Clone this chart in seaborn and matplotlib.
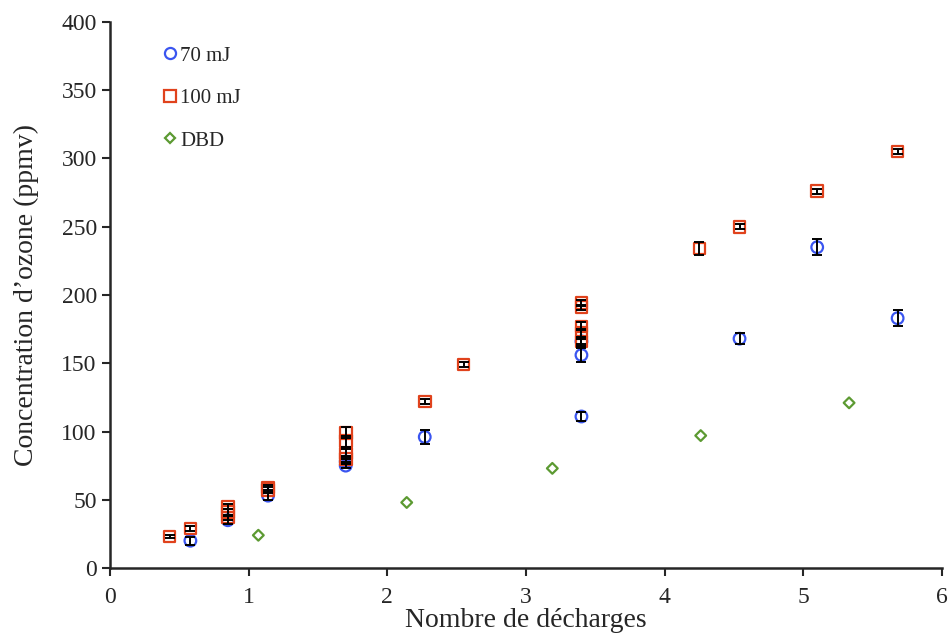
import matplotlib
matplotlib.use("Agg")
import matplotlib.pyplot as plt
from matplotlib.lines import Line2D
import seaborn as sns
import pandas as pd

# 70 mJ
x_70 = [0.58, 0.85, 1.14, 1.70, 1.70, 2.27, 3.40, 3.40, 3.40, 4.54, 5.10, 5.68]
y_70 = [20, 35, 53, 75, 78, 96, 111, 156, 166, 168, 235, 183]
e_70 = [3, 3, 3, 2, 2, 5, 3, 5, 3, 4, 6, 6]

# 100 mJ
x_100 = [0.43, 0.58, 0.85, 0.85, 0.85, 1.14, 1.14, 1.70, 1.70, 1.70, 1.70,
         2.27, 2.55, 3.40, 3.40, 3.40, 3.40, 3.40, 4.25, 4.54, 5.10, 5.68]
y_100 = [23, 29, 37, 41, 45, 57, 59, 80, 84, 93, 99,
         122, 149, 166, 172, 177, 191, 194, 234, 250, 276, 305]
e_100 = [1, 2, 2, 2, 2, 2, 2, 2, 3, 4, 4,
         2, 2, 2, 3, 3, 2, 2, 5, 2, 2, 2]

# DBD
x_dbd = [1.07, 2.14, 3.19, 4.26, 5.33]
y_dbd = [24, 48, 73, 97, 121]

labels = ["70 mJ", "100 mJ", "DBD"]
colors = ["#3a55f0", "#e0421c", "#5c9a32"]
markers = ["o", "s", "D"]

sns.set_style("ticks")
plt.rcParams['font.family'] = ['Liberation Serif', 'DejaVu Serif']

fig = plt.figure(figsize=(9.52, 6.37), dpi=100)
ax = fig.add_axes([0.1155, 0.1083, 0.874, 0.8572])

series = [(x_70, y_70, e_70), (x_100, y_100, e_100), (x_dbd, y_dbd, None)]
sizes = [70, 70, 30]
for (xs, ys, es), lab, c, m, s in zip(series, labels, colors, markers, sizes):
    df = pd.DataFrame({"x": xs, "y": ys})
    sns.scatterplot(data=df, x="x", y="y", marker=m, s=s, ax=ax, zorder=2)
    coll = ax.collections[-1]
    coll.set_facecolor("none")
    coll.set_edgecolor(c)
    coll.set_linewidth(1.6)
    if es is not None:
        ax.errorbar(xs, ys, yerr=es, fmt="none", ecolor="black",
                    elinewidth=1.4, capsize=3.5, capthick=1.4, zorder=3)

ax.set_xlim(0, 6)
ax.set_ylim(0, 400)
ax.set_xticks(range(0, 7))
ax.set_yticks(range(0, 401, 50))
ax.tick_params(axis="both", labelsize=17, direction="out", length=6, width=1.5)
ax.tick_params(axis="x", pad=8)
for sp in ["left", "bottom"]:
    ax.spines[sp].set_linewidth(1.8)
sns.despine(ax=ax)

ax.set_xlabel("Nombre de décharges", fontsize=20, labelpad=0)
ax.set_ylabel("Concentration d’ozone (ppmv)", fontsize=20, labelpad=16)

handles = [Line2D([], [], linestyle="none", marker=m, markersize=ms,
                  markerfacecolor="none", markeredgecolor=c, markeredgewidth=1.6)
           for m, c, ms in zip(markers, colors, [8, 8, 5])]
ax.legend(handles, labels, loc="upper left", bbox_to_anchor=(0.042, 0.99),
          frameon=False, fontsize=15, labelspacing=1.1, handlelength=0.6,
          handletextpad=0.2)

fig.savefig("out.png", dpi=100)
